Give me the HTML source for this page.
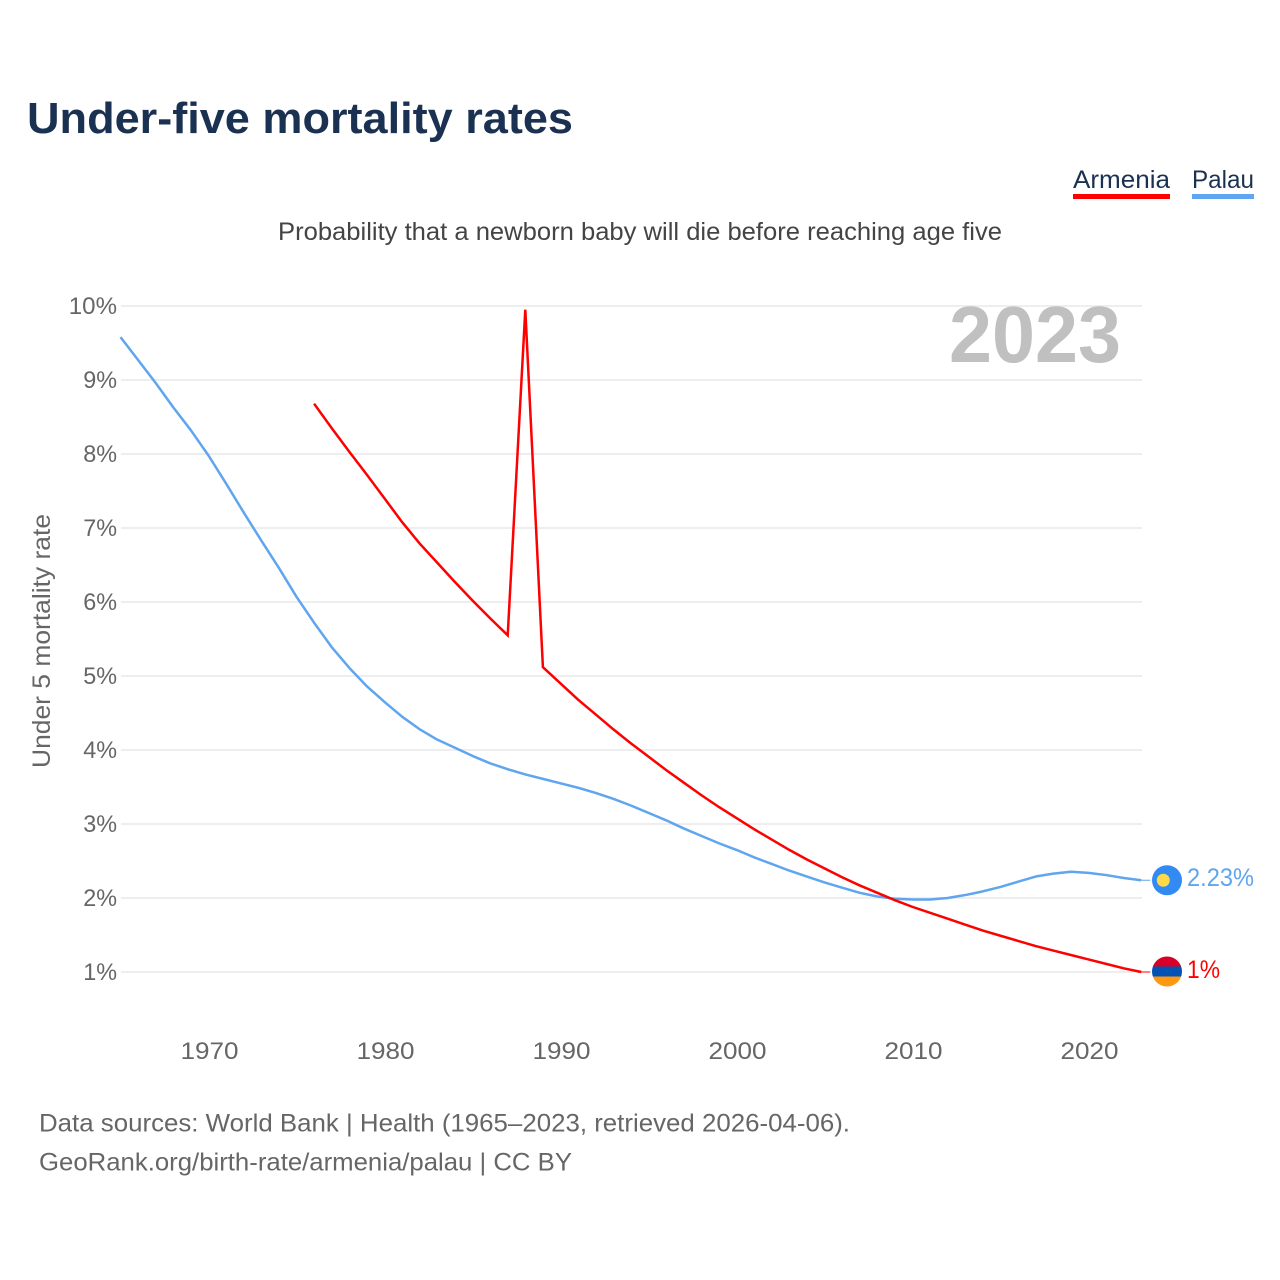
<!DOCTYPE html>
<html lang="en">
<head>
<meta charset="utf-8">
<title>Under-five mortality rates</title>
<style>
html,body{margin:0;padding:0;background:#fff;}
svg{display:block;font-family:"Liberation Sans",sans-serif;}
</style>
</head>
<body>
<svg id="chart" xmlns="http://www.w3.org/2000/svg" width="1280" height="1280" viewBox="0 0 1280 1280">
  <rect x="0" y="0" width="1280" height="1280" fill="#fff"/>
  <text x="27" y="133" font-size="44" font-weight="700" fill="#1a3152" textLength="546" lengthAdjust="spacingAndGlyphs">Under-five mortality rates</text>
  <text x="278" y="240" font-size="25" fill="#444" textLength="724" lengthAdjust="spacingAndGlyphs">Probability that a newborn baby will die before reaching age five</text>

  <g>
    <text x="1073" y="188" font-size="25" fill="#1a3152" textLength="97" lengthAdjust="spacingAndGlyphs">Armenia</text>
    <rect x="1073" y="194" width="97" height="5" fill="#ff0000"/>
  </g>
  <g>
    <text x="1192" y="188" font-size="25" fill="#1a3152" textLength="62" lengthAdjust="spacingAndGlyphs">Palau</text>
    <rect x="1192" y="194" width="62" height="5" fill="#5fa5ef"/>
  </g>

  <g id="grid"></g>
  <g id="yTicks"></g>
  <g id="xTicks"></g>

  <text x="949" y="362" font-size="80" font-weight="700" fill="#c0c0c0" textLength="172" lengthAdjust="spacingAndGlyphs">2023</text>
  <text transform="translate(50,641) rotate(-90)" text-anchor="middle" font-size="25" fill="#666" textLength="254" lengthAdjust="spacingAndGlyphs">Under 5 mortality rate</text>

  <g id="series"></g>
  <g id="ends"></g>

  <text x="39" y="1131.5" font-size="25" fill="#666" textLength="811" lengthAdjust="spacingAndGlyphs">Data sources: World Bank | Health (1965–2023, retrieved 2026-04-06).</text>
  <text x="39" y="1170.5" font-size="25" fill="#666" textLength="533" lengthAdjust="spacingAndGlyphs">GeoRank.org/birth-rate/armenia/palau | CC BY</text>
</svg>
<script>
const yTickValues = [1, 2, 3, 4, 5, 6, 7, 8, 9, 10];
const xTickYears = [1970, 1980, 1990, 2000, 2010, 2020];
const palauStartYear = 1965;
const palauValues = [
  9.58, 9.27, 8.96, 8.63, 8.32,
  7.98, 7.60, 7.21, 6.83, 6.46, 6.07, 5.72, 5.39, 5.11, 4.86,
  4.65, 4.45, 4.28, 4.14, 4.03, 3.92, 3.82, 3.74, 3.67, 3.61,
  3.55, 3.49, 3.42, 3.34, 3.25, 3.15, 3.05, 2.94, 2.84, 2.74,
  2.65, 2.55, 2.46, 2.37, 2.29, 2.21, 2.14, 2.07, 2.02, 1.99,
  1.98, 1.98, 2.00, 2.04, 2.09, 2.15, 2.22, 2.29, 2.33, 2.355,
  2.34, 2.31, 2.27, 2.24
];
const armeniaStartYear = 1976;
const armeniaValues = [
  8.68, 8.35, 8.03, 7.72,
  7.40, 7.08, 6.79, 6.53, 6.27, 6.02, 5.78, 5.55, 9.95, 5.12,
  4.90, 4.68, 4.48, 4.28, 4.09, 3.91, 3.73, 3.56, 3.39, 3.23,
  3.08, 2.93, 2.79, 2.65, 2.52, 2.40, 2.28, 2.17, 2.07, 1.97,
  1.88, 1.80, 1.72, 1.64, 1.56, 1.49, 1.42, 1.35, 1.29, 1.23,
  1.17, 1.11, 1.05, 1.00
];
const palauLabel = "2.23%";
const armeniaLabel = "1%";

const NS = "http://www.w3.org/2000/svg";
function xScale(year) { return 208.5 + (year - 1970) * 17.6; }
function yScale(v) { return 972 - (v - 1) * 74; }
function make(tag, attrs, parent) {
  const el = document.createElementNS(NS, tag);
  for (const k in attrs) el.setAttribute(k, attrs[k]);
  parent.appendChild(el);
  return el;
}
const gridG = document.getElementById("grid");
const yG = document.getElementById("yTicks");
const xG = document.getElementById("xTicks");
const seriesG = document.getElementById("series");
const endsG = document.getElementById("ends");

yTickValues.forEach(function (v) {
  const line = make("line", { x1: 121, x2: 1142, y1: yScale(v), y2: yScale(v), stroke: "#eeeeee", "stroke-width": 2 }, gridG);
  
  
  const s = v + "%";
  const t = make("text", { x: 117, y: yScale(v) + 8, "text-anchor": "end", "font-size": 24, fill: "#666", textLength: s.length * 14.4 + 5, lengthAdjust: "spacingAndGlyphs" }, yG);
  
  
  t.textContent = s;
});

xTickYears.forEach(function (yr) {
  const t = make("text", { x: xScale(yr) + 1, y: 1059, "text-anchor": "middle", "font-size": 24, fill: "#666", textLength: 58, lengthAdjust: "spacingAndGlyphs" }, xG);
  
  
  t.textContent = yr;
});

function pathFrom(values, startYear) {
  return values.map(function (v, i) {
    return (i ? "L" : "M") + xScale(startYear + i).toFixed(2) + " " + yScale(v).toFixed(2);
  }).join("");
}
const palauLine = make("path", { d: pathFrom(palauValues, palauStartYear), fill: "none", stroke: "#5fa5ef", "stroke-width": 2.5, "stroke-linejoin": "round" }, seriesG);


const armeniaLine = make("path", { d: pathFrom(armeniaValues, armeniaStartYear), fill: "none", stroke: "#ff0000", "stroke-width": 2.5, "stroke-linejoin": "miter", "stroke-miterlimit": 4 }, seriesG);



const palauEndY = yScale(palauValues[palauValues.length - 1]);
const armeniaEndY = yScale(armeniaValues[armeniaValues.length - 1]);
const endX = xScale(2023);

const pc = make("line", { x1: endX, x2: endX + 9, y1: palauEndY, y2: palauEndY, stroke: "#5fa5ef", "stroke-width": 1 }, endsG);


const ac = make("line", { x1: endX, x2: endX + 9, y1: armeniaEndY, y2: armeniaEndY, stroke: "#ff0000", "stroke-width": 1 }, endsG);



const flagP = make("g", { transform: "translate(1167," + palauEndY + ")" }, endsG);


make("circle", { cx: 0, cy: 0, r: 15, fill: "#338af3" }, flagP);
make("circle", { cx: -3.7, cy: 0, r: 6.5, fill: "#ffda44" }, flagP);

const clip = make("clipPath", { id: "armClip" }, endsG);
make("circle", { cx: 0, cy: 0, r: 15 }, clip);
const flagA = make("g", { transform: "translate(1167," + (armeniaEndY - 0.5) + ")", "clip-path": "url(#armClip)" }, endsG);


make("rect", { x: -15, y: -15, width: 30, height: 10, fill: "#d80027" }, flagA);
make("rect", { x: -15, y: -5, width: 30, height: 10, fill: "#0052b4" }, flagA);
make("rect", { x: -15, y: 5, width: 30, height: 10, fill: "#ff9811" }, flagA);

const pl = make("text", { x: 1187, y: palauEndY + 6, "font-size": 25, fill: "#5fa5ef", textLength: 67, lengthAdjust: "spacingAndGlyphs" }, endsG);


pl.textContent = palauLabel;
const al = make("text", { x: 1187, y: armeniaEndY + 6, "font-size": 25, fill: "#ff0000", textLength: 33, lengthAdjust: "spacingAndGlyphs" }, endsG);


al.textContent = armeniaLabel;
</script>
</body>
</html>
